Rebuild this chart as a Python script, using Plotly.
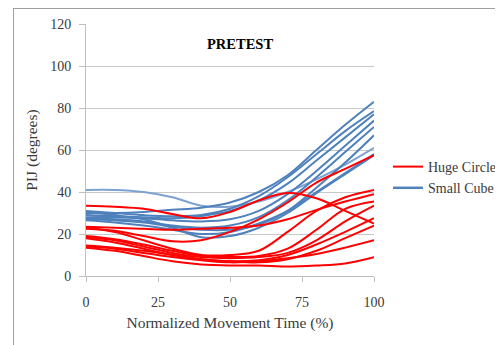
import plotly.graph_objects as go

time_pct = [0, 10, 20, 30, 40, 50, 60, 70, 80, 90, 100]

huge_circle = [
    [33.5, 33, 32, 29.5, 27.5, 30.5, 36, 39.5, 37, 31, 25],
    [23.5, 23, 22.5, 22, 22.5, 23, 24, 27, 31.5, 35.5, 39],
    [22.5, 21.5, 19, 16.5, 17, 21, 27, 35, 44.5, 51, 57.5],
    [23, 21, 17, 13, 10, 10, 12, 21, 31, 37.5, 41],
    [19, 17.5, 15, 12, 9.5, 9, 9.5, 13, 22, 32, 35.5],
    [18.5, 17, 14, 11, 9, 8.5, 9, 11, 17, 26, 33.5],
    [18, 16, 13, 10, 8, 7, 7.5, 10, 15, 21, 27.5],
    [14.5, 13.5, 12, 10, 8, 7, 6.5, 8, 12, 18, 24],
    [14, 13, 11, 9, 7.5, 6.5, 7, 8.5, 10.5, 13.5, 17],
    [13.5, 12, 9.5, 7, 5.5, 5, 5, 4.5, 5, 6, 9],
]

small_cube = [
    [41, 41, 40, 37.5, 33.5, 33, 35.5, 40, 46, 53, 61],
    [30, 30, 30.5, 31.5, 32.5, 35, 40, 48, 60, 72, 83],
    [31, 30, 29, 28.5, 29, 32, 38, 47, 58, 69, 78.5],
    [29, 28.5, 28, 27.5, 28.5, 31, 36, 44, 55, 66, 77],
    [28, 28, 27.5, 26.5, 26, 27, 31, 39, 50, 62, 74],
    [27.5, 27, 26, 24, 23, 24, 28, 36, 47, 59, 71],
    [27, 26.5, 25.5, 23.5, 22, 22, 24.5, 31, 42, 54, 67],
    [26.5, 25.5, 24, 22, 20, 21, 25, 31, 40, 49, 58],
    [30.5, 29, 27, 23, 18.5, 19, 23, 30, 39.5, 48.5, 57.5],
]

series_names = ["Huge Circle", "Small Cube"]
x_ticks = [0, 25, 50, 75, 100]
y_ticks = [0, 20, 40, 60, 80, 100, 120]

RED = "#FF0000"
BLUE = "#4F81BD"
LIGHT_BLUE = "#7DA2CF"
FONT = "Liberation Serif, Times New Roman, serif"
TXT = "#3A3A3A"

fig = go.Figure()

for i, ys in enumerate(small_cube):
    fig.add_trace(go.Scatter(
        x=time_pct, y=ys, mode="lines",
        line=dict(color=LIGHT_BLUE if i == 0 else BLUE, width=2, shape="spline"),
        name=series_names[1], legendgroup="b", showlegend=False,
    ))
for i, ys in enumerate(huge_circle):
    fig.add_trace(go.Scatter(
        x=time_pct, y=ys, mode="lines",
        line=dict(color=RED, width=2, shape="spline"),
        name=series_names[0], legendgroup="a", showlegend=(i == 0),
        legendrank=1,
    ))
fig.add_trace(go.Scatter(
    x=[None], y=[None], mode="lines",
    line=dict(color=BLUE, width=2.5),
    name=series_names[1], legendgroup="b", showlegend=True, legendrank=2,
))

# page body has an 8px margin; lay out in window pixels minus that offset
OFF = 8
W, H = 503 - OFF, 345 - OFF
L = 86 - OFF
T = 24 - OFF
pw, ph = 288, 252
R = W - L - pw
B = H - T - ph


def px_x(wx):
    return (wx - OFF - L) / pw


def px_y(wy):
    return (H - B - (wy - OFF)) / ph


fig.update_layout(
    width=W, height=H,
    margin=dict(l=L, r=R, t=T, b=B, autoexpand=False),
    paper_bgcolor="white", plot_bgcolor="white",
    font=dict(family=FONT, size=14, color=TXT),
    showlegend=True,
    legend=dict(
        x=px_x(388), y=px_y(151), xanchor="left", yanchor="top",
        font=dict(family=FONT, size=14, color=TXT),
        bgcolor="rgba(0,0,0,0)", itemwidth=30, tracegroupgap=0,
        traceorder="normal",
    ),
    xaxis=dict(
        range=[0, 100], tickvals=x_ticks, showgrid=False, zeroline=False,
        showline=True, linecolor="#BFBFBF", linewidth=1, automargin=False,
        ticks="outside", ticklen=5, tickcolor="#BFBFBF",
        ticklabelstandoff=8,
        title=dict(text="Normalized Movement Time (%)", standoff=8,
                   font=dict(family=FONT, size=15.5, color=TXT)),
    ),
    yaxis=dict(
        range=[0, 120], tickvals=y_ticks, showgrid=True, gridcolor="#C8C8C8",
        gridwidth=1, zeroline=False, automargin=False,
        showline=True, linecolor="#BFBFBF", linewidth=1,
        ticks="outside", ticklen=6, tickcolor="#BFBFBF",
        ticklabelstandoff=5,
        title=dict(text="PIJ (degrees)", standoff=8,
                   font=dict(family=FONT, size=15.5, color=TXT)),
    ),
    annotations=[dict(
        x=53.5, y=110.5, xref="x", yref="y", text="<b>PRETEST</b>",
        showarrow=False, font=dict(family=FONT, size=14.5, color="black"),
    )],
    shapes=[
        dict(type="line", xref="paper", yref="paper",
             x0=px_x(13), x1=px_x(503), y0=px_y(8.5), y1=px_y(8.5),
             line=dict(color="#A0A0A0", width=1)),
        dict(type="line", xref="paper", yref="paper",
             x0=px_x(13.5), x1=px_x(13.5), y0=px_y(8.5), y1=px_y(345),
             line=dict(color="#A0A0A0", width=1)),
    ],
)

fig.write_html("out.html")
